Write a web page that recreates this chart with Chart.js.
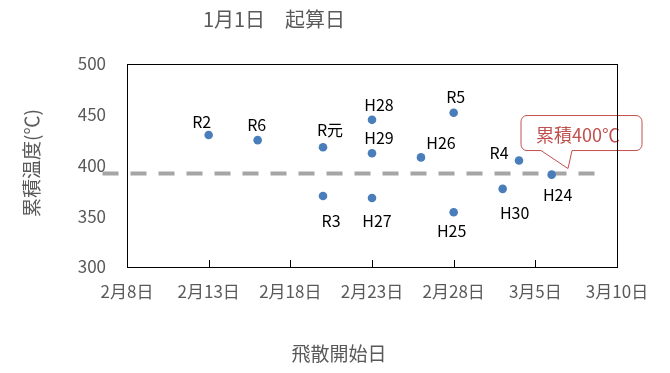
<!DOCTYPE html>
<html lang="ja">
<head>
<meta charset="utf-8">
<title>1月1日 起算日</title>
<script src="https://cdn.jsdelivr.net/npm/chart.js@4.4.1/dist/chart.umd.min.js"></script>
<style>
  body { margin: 0; background: #fff; }
  #wrap { width: 670px; height: 373px; }
</style>
</head>
<body>
<div id="wrap"><canvas id="chart"></canvas></div>
<script>
// 飛散開始日ごとの1月1日からの累積温度
const years = ['H24', 'H25', 'H26', 'H27', 'H28', 'H29', 'H30', 'R元', 'R2', 'R3', 'R4', 'R5', 'R6'];
const startDates = ['3/6', '2/28', '2/26', '2/23', '2/23', '2/23', '3/3', '2/20', '2/13', '2/20', '3/4', '2/28', '2/16'];
const heatSums = [391, 354, 408, 368, 445, 412, 377, 418, 430, 370, 405, 452, 425];

// 目安線（累積400℃付近）
const thresholdValue = 392;
const thresholdDays = [37.5, 67.7]; // day of year, runs a bit past the left axis
const calloutText = '累積400℃';
const calloutAt = ['3/7', 397];

// axis ranges (day of year: 2/8 = 39, 3/10 = 69)
const xMin = 39, xMax = 69, xStep = 5;
const yMin = 300, yMax = 500, yStep = 50;

const titleText = '1月1日　起算日';
const xTitle = '飛散開始日';
const yTitle = '累積温度(℃)';

// where each year's label sits relative to its point
const labelOffsets = [[6, 20], [-2, 19], [20, -14], [5, 23], [7, -15], [7, -15], [12, 24],
  [7, -17], [-7, -13], [8, 25], [-20, -8], [2, -16], [-1, -15]];

const font = '"Noto Sans CJK JP", "Noto Sans", sans-serif';
const gray = '#595959';

const toDay = s => {
  const [m, d] = s.split('/').map(Number);
  return (m === 2 ? 31 : 59) + d;
};
const dayLabel = v => (v <= 59 ? `2月${v - 31}日` : `3月${v - 59}日`);

const points = startDates.map((s, i) => ({ x: toDay(s), y: heatSums[i] }));

const decorations = {
  id: 'decorations',
  afterDatasetsDraw(chart) {
    const { ctx, scales: { x, y } } = chart;
    ctx.save();

    // year labels
    ctx.font = `16px ${font}`;
    ctx.fillStyle = '#000';
    ctx.textAlign = 'center';
    ctx.textBaseline = 'middle';
    chart.getDatasetMeta(0).data.forEach((pt, i) => {
      const [dx, dy] = labelOffsets[i];
      ctx.fillText(years[i], pt.x + dx, pt.y + dy);
    });

    // callout
    const tx = x.getPixelForValue(toDay(calloutAt[0]));
    const ty = y.getPixelForValue(calloutAt[1]);
    const l = tx - 47, r = tx + 74, t = ty - 53, b = ty - 18, rad = 6;
    ctx.beginPath();
    ctx.moveTo(l + rad, t);
    ctx.lineTo(r - rad, t);
    ctx.arcTo(r, t, r, t + rad, rad);
    ctx.lineTo(r, b - rad);
    ctx.arcTo(r, b, r - rad, b, rad);
    ctx.lineTo(tx + 4, b);
    ctx.lineTo(tx, ty);
    ctx.lineTo(tx - 27, b);
    ctx.lineTo(l + rad, b);
    ctx.arcTo(l, b, l, b - rad, rad);
    ctx.lineTo(l, t + rad);
    ctx.arcTo(l, t, l + rad, t, rad);
    ctx.closePath();
    ctx.fillStyle = '#fff';
    ctx.fill();
    ctx.strokeStyle = '#c0504d';
    ctx.lineWidth = 1;
    ctx.stroke();
    ctx.fillStyle = '#c0504d';
    ctx.font = `18px ${font}`;
    ctx.fillText(calloutText, tx + 10, ty - 33);
    ctx.restore();
  },
  afterDraw(chart) {
    const { ctx, chartArea: a, scales: { x } } = chart;
    ctx.save();
    // plot frame
    ctx.strokeStyle = '#000';
    ctx.lineWidth = 1;
    ctx.strokeRect(Math.round(a.left) + 0.5, Math.round(a.top) + 0.5,
      Math.round(a.right - a.left), Math.round(a.bottom - a.top));
    // inside tick marks on x axis
    ctx.beginPath();
    x.ticks.forEach(tk => {
      const px = Math.round(x.getPixelForValue(tk.value)) + 0.5;
      ctx.moveTo(px, a.bottom);
      ctx.lineTo(px, a.bottom - 7);
    });
    ctx.stroke();

    // titles
    ctx.fillStyle = gray;
    ctx.textAlign = 'center';
    ctx.textBaseline = 'middle';
    ctx.font = `20px ${font}`;
    ctx.fillText(titleText, 274, 19);
    ctx.font = `19px ${font}`;
    ctx.fillText(xTitle, 339, 354);
    ctx.translate(32, 163);
    ctx.rotate(-Math.PI / 2);
    ctx.font = `19px ${font}`;
    ctx.fillText(yTitle, 0, 0);
    ctx.restore();
  }
};

new Chart(document.getElementById('chart'), {
  type: 'scatter',
  data: {
    datasets: [
      {
        data: points,
        backgroundColor: '#4a7ebb',
        borderWidth: 0,
        pointRadius: 4.3,
        pointHoverRadius: 4.3,
        order: 0
      },
      {
        type: 'line',
        data: thresholdDays.map(d => ({ x: d, y: thresholdValue })),
        borderColor: '#a5a5a5',
        borderWidth: 4,
        borderDash: [16, 12],
        pointRadius: 0,
        clip: false,
        order: 1
      }
    ]
  },
  options: {
    responsive: true,
    maintainAspectRatio: false,
    animation: false,
    layout: { padding: { left: 0, right: 53, top: 64, bottom: 0 } },
    plugins: {
      legend: { display: false },
      tooltip: { enabled: false },
      title: { display: false }
    },
    scales: {
      x: {
        type: 'linear',
        min: xMin,
        max: xMax,
        grid: { display: false, drawTicks: false },
        border: { display: false },
        ticks: {
          stepSize: xStep,
          padding: 14,
          color: gray,
          font: { family: font, size: 17 },
          maxRotation: 0,
          callback: v => dayLabel(v)
        },
        afterFit: s => { s.height = 106; }
      },
      y: {
        min: yMin,
        max: yMax,
        grid: { display: false, drawTicks: false },
        border: { display: false },
        ticks: {
          stepSize: yStep,
          padding: 21,
          color: gray,
          font: { family: font, size: 17 }
        },
        afterFit: s => { s.width = 127; }
      }
    }
  },
  plugins: [decorations]
});
</script>
</body>
</html>
